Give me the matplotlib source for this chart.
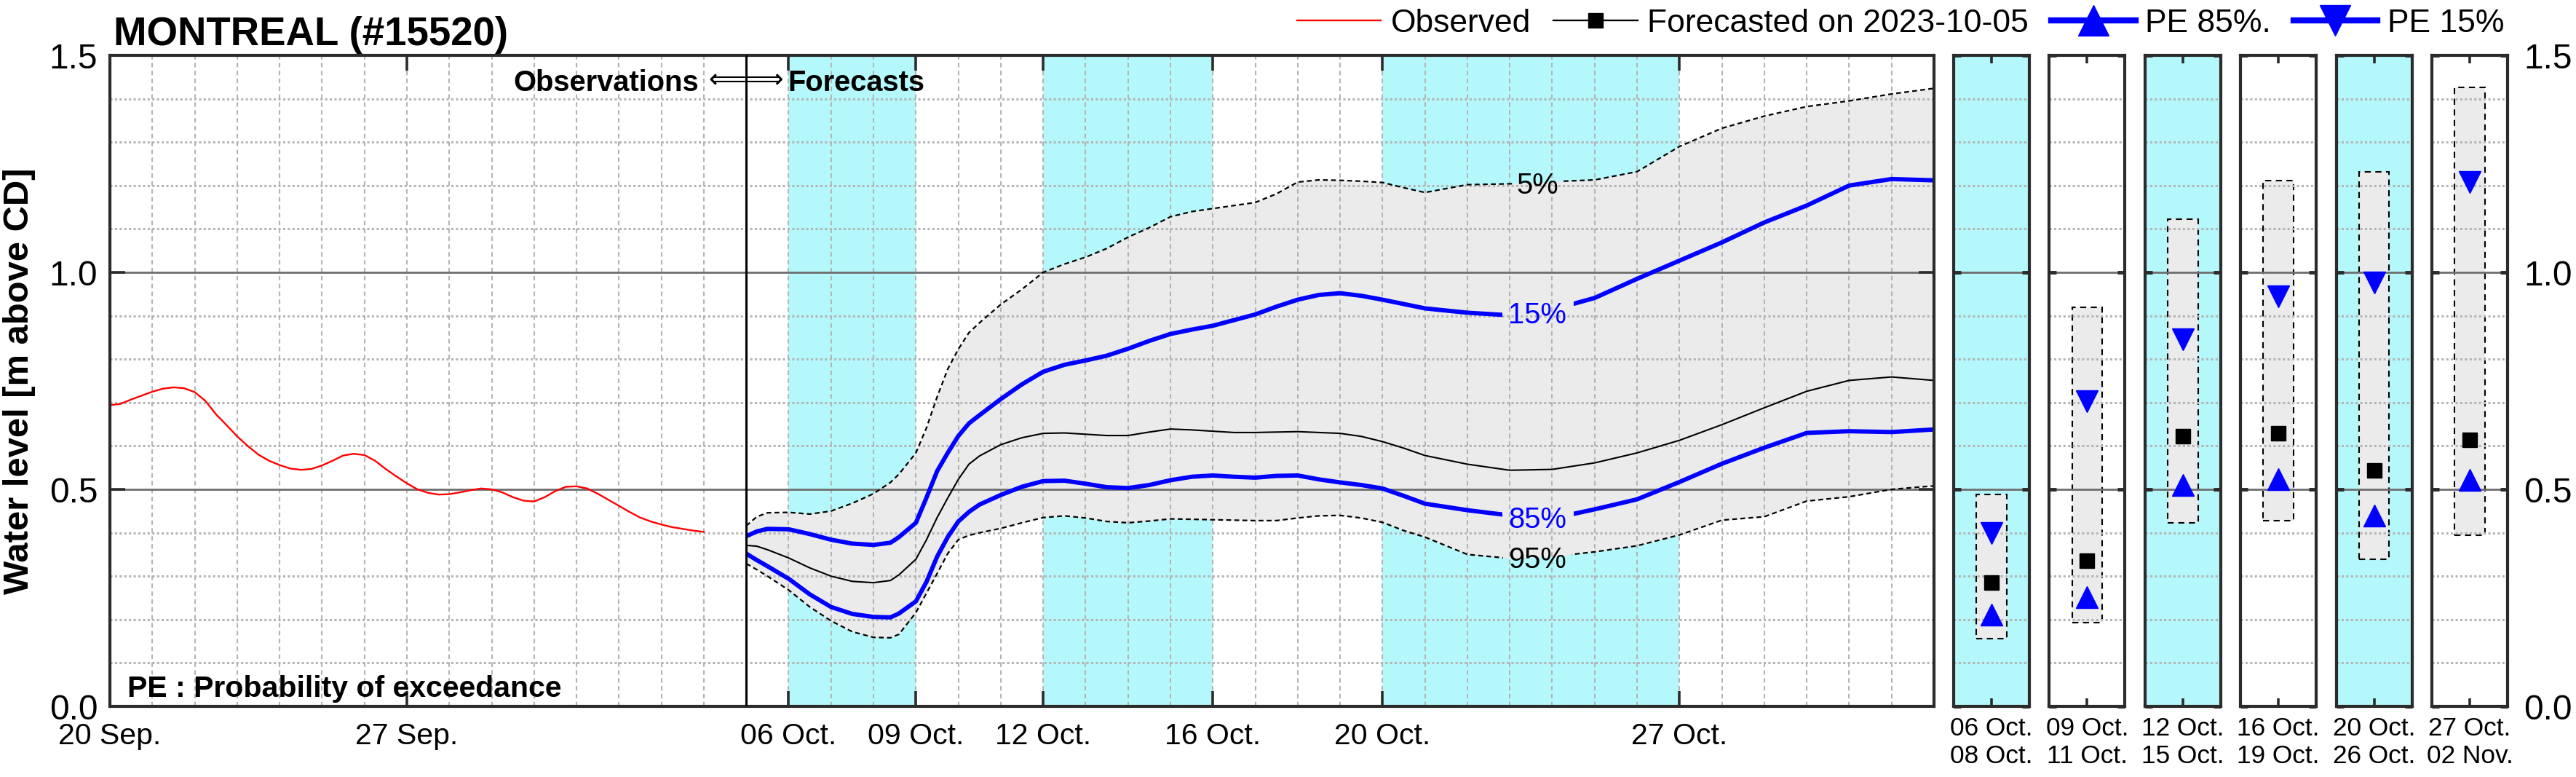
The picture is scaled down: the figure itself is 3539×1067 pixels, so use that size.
import numpy as np
import matplotlib
matplotlib.use("Agg")
import matplotlib.pyplot as plt
import matplotlib.dates as mdates
from matplotlib import font_manager
from matplotlib.lines import Line2D
from matplotlib.path import Path
from matplotlib.patches import PathPatch
from matplotlib.ticker import MultipleLocator, FormatStrFormatter
from datetime import datetime

# ------------------------------------------------------------------ data
station = "MONTREAL (#15520)"
forecast_issue = "2023-10-05"

obs_start = "2023-09-20"
obs_step_days = 0.25
obs_level = [0.694, 0.697, 0.707, 0.716, 0.725, 0.732, 0.735, 0.733, 0.724, 0.704,
             0.673, 0.648, 0.622, 0.600, 0.580, 0.566, 0.556, 0.548, 0.545, 0.547,
             0.555, 0.566, 0.578, 0.582, 0.579, 0.566, 0.547, 0.530, 0.514, 0.500,
             0.492, 0.488, 0.489, 0.493, 0.498, 0.502, 0.500, 0.493, 0.482, 0.474,
             0.472, 0.482, 0.496, 0.506, 0.507, 0.502, 0.490, 0.476, 0.462, 0.448,
             0.435, 0.426, 0.419, 0.413, 0.409, 0.405, 0.402]

fc_start = "2023-10-05"
fc_day = [0, 0.25, 0.5, 1, 1.5, 2, 2.5, 3, 3.4, 3.6, 4, 4.25, 4.5, 4.75, 5, 5.25, 5.5,
          6, 6.5, 7, 7.5, 8, 8.5, 9, 9.5, 10, 10.5, 11, 11.5, 12, 12.5, 13, 13.5, 14,
          14.5, 15, 15.5, 16, 17, 18, 19, 20, 21, 22, 23, 24, 25, 26, 27, 28]
fc_median = [0.371, 0.369, 0.361, 0.342, 0.319, 0.300, 0.288, 0.285, 0.290, 0.303,
             0.339, 0.384, 0.435, 0.480, 0.523, 0.558, 0.577, 0.603, 0.619, 0.629,
             0.630, 0.627, 0.624, 0.624, 0.632, 0.639, 0.637, 0.634, 0.631, 0.631,
             0.632, 0.633, 0.631, 0.629, 0.622, 0.610, 0.595, 0.578, 0.558, 0.544,
             0.546, 0.561, 0.584, 0.613, 0.649, 0.688, 0.726, 0.751, 0.759, 0.751]
pe15 = [0.392, 0.403, 0.409, 0.408, 0.397, 0.384, 0.375, 0.372, 0.377, 0.390,
        0.423, 0.481, 0.542, 0.584, 0.623, 0.652, 0.671, 0.708, 0.742, 0.771,
        0.787, 0.797, 0.808, 0.824, 0.842, 0.858, 0.868, 0.877, 0.890, 0.903,
        0.921, 0.937, 0.948, 0.952, 0.946, 0.937, 0.927, 0.917, 0.907, 0.901,
        0.914, 0.941, 0.985, 1.027, 1.069, 1.115, 1.154, 1.200, 1.215, 1.212]
pe85 = [0.352, 0.337, 0.323, 0.294, 0.258, 0.229, 0.213, 0.206, 0.205, 0.214,
        0.242, 0.287, 0.345, 0.390, 0.426, 0.448, 0.465, 0.487, 0.506, 0.519,
        0.520, 0.513, 0.505, 0.503, 0.510, 0.521, 0.529, 0.532, 0.529, 0.527,
        0.531, 0.532, 0.523, 0.516, 0.510, 0.502, 0.485, 0.467, 0.452, 0.440,
        0.433, 0.454, 0.477, 0.517, 0.559, 0.596, 0.630, 0.634, 0.632, 0.638]
pe5 = [0.416, 0.437, 0.446, 0.447, 0.443, 0.450, 0.468, 0.490, 0.516, 0.535,
       0.584, 0.642, 0.713, 0.777, 0.823, 0.861, 0.884, 0.926, 0.961, 1.000,
       1.019, 1.035, 1.055, 1.081, 1.103, 1.128, 1.140, 1.147, 1.154, 1.161,
       1.181, 1.208, 1.213, 1.212, 1.210, 1.207, 1.195, 1.184, 1.202, 1.204,
       1.209, 1.213, 1.232, 1.290, 1.332, 1.360, 1.382, 1.395, 1.411, 1.424]
pe95 = [0.329, 0.315, 0.300, 0.268, 0.229, 0.197, 0.172, 0.159, 0.158, 0.166,
        0.216, 0.261, 0.306, 0.352, 0.384, 0.394, 0.400, 0.410, 0.423, 0.435,
        0.439, 0.434, 0.426, 0.423, 0.427, 0.432, 0.431, 0.430, 0.429, 0.428,
        0.428, 0.434, 0.439, 0.440, 0.434, 0.424, 0.405, 0.390, 0.350, 0.341,
        0.345, 0.356, 0.370, 0.395, 0.429, 0.437, 0.473, 0.483, 0.500, 0.508]

x_start = "2023-09-20"
x_end = "2023-11-02"
tick_dates = ["2023-09-20", "2023-09-27", "2023-10-06", "2023-10-09", "2023-10-12",
              "2023-10-16", "2023-10-20", "2023-10-27"]
tick_labels = ["20 Sep.", "27 Sep.", "06 Oct.", "09 Oct.", "12 Oct.", "16 Oct.",
               "20 Oct.", "27 Oct."]

period_start = ["2023-10-06", "2023-10-09", "2023-10-12", "2023-10-16", "2023-10-20", "2023-10-27"]
period_end = ["2023-10-08", "2023-10-11", "2023-10-15", "2023-10-19", "2023-10-26", "2023-11-02"]
period_labels = ["06 Oct.\n08 Oct.", "09 Oct.\n11 Oct.", "12 Oct.\n15 Oct.",
                 "16 Oct.\n19 Oct.", "20 Oct.\n26 Oct.", "27 Oct.\n02 Nov."]
per_p95 = [0.156, 0.193, 0.422, 0.428, 0.339, 0.395]
per_p5 = [0.489, 0.920, 1.123, 1.211, 1.232, 1.426]
per_fc = [0.285, 0.336, 0.622, 0.629, 0.544, 0.614]
per_pe85 = [0.212, 0.251, 0.510, 0.524, 0.439, 0.522]
per_pe15 = [0.400, 0.703, 0.845, 0.944, 0.977, 1.208]

# ------------------------------------------------------------------ style
def has_font(name):
    try:
        font_manager.findfont(font_manager.FontProperties(family=name),
                              fallback_to_default=False)
        return True
    except Exception:
        return False

NARROW = has_font("Liberation Sans Narrow")
FONT = "Liberation Sans Narrow" if NARROW else "Liberation Sans"
SC = 1.0 if NARROW else 0.82          # keep text widths equal to the reference
plt.rcParams["font.family"] = [FONT, "DejaVu Sans"]

CYAN = "#b4f8fb"
GREY_FILL = "#ebebeb"
SPINE = "#2b2b2b"
W, H = 3539, 1067

def d2n(s):
    return mdates.date2num(datetime.strptime(s, "%Y-%m-%d"))

fig = plt.figure(figsize=(W / 100, H / 100), dpi=100)
ax_l, ax_r, ax_t, ax_b = 151, 2657, 76, 970
B = 1 - ax_b / H
HH = (ax_b - ax_t) / H
ax = fig.add_axes([ax_l / W, B, (ax_r - ax_l) / W, HH])

x0, x1 = d2n(x_start), d2n(x_end)
ax.set_xlim(x0, x1)
ax.set_ylim(0, 1.5)
ax.set_axisbelow("line")

# cyan bands (alternate periods)
for i in range(0, len(period_start), 2):
    ax.axvspan(d2n(period_start[i]), d2n(period_end[i]) + 1, color=CYAN, lw=0, zorder=0.5)

t_obs = d2n(obs_start) + np.arange(len(obs_level)) * obs_step_days
t_fc = d2n(fc_start) + np.array(fc_day)

ax.fill_between(t_fc, pe95, pe5, color=GREY_FILL, lw=0, zorder=1)


def gap_clip(artist, gx0, gx1, gy0, gy1):
    X0, X1 = ax.get_xlim()
    Y0, Y1 = ax.get_ylim()
    verts = [(X0, Y0), (X1, Y0), (X1, Y1), (X0, Y1), (X0, Y0),
             (gx0, gy0), (gx0, gy1), (gx1, gy1), (gx1, gy0), (gx0, gy0)]
    codes = [Path.MOVETO, Path.LINETO, Path.LINETO, Path.LINETO, Path.CLOSEPOLY] * 2
    artist.set_clip_path(PathPatch(Path(verts, codes), transform=ax.transData))


lab_x = d2n(fc_start) + 18.65
l5, = ax.plot(t_fc, pe5, color="black", lw=1.6, ls=(0, (3, 2)), zorder=2)
l95, = ax.plot(t_fc, pe95, color="black", lw=1.6, ls=(0, (3, 2)), zorder=2)
l15, = ax.plot(t_fc, pe15, color="blue", lw=4.3, zorder=2.2, solid_capstyle="butt")
l85, = ax.plot(t_fc, pe85, color="blue", lw=4.3, zorder=2.2, solid_capstyle="butt")
ax.plot(t_fc, fc_median, color="black", lw=1.5, zorder=2.1)
ax.plot(t_obs, obs_level, color="red", lw=1.7, zorder=2.1)

gap_clip(l5, lab_x - 0.55, lab_x + 0.55, 1.16, 1.25)
gap_clip(l95, lab_x - 0.8, lab_x + 0.8, 0.29, 0.385)
gap_clip(l15, lab_x - 0.82, lab_x + 0.86, 0.85, 0.96)
gap_clip(l85, lab_x - 0.82, lab_x + 0.86, 0.38, 0.49)

PF = 35 * SC
ax.text(lab_x, 1.2, "5%", color="black", fontsize=PF, ha="center", va="center", zorder=4)
ax.text(lab_x, 0.901, "15%", color="blue", fontsize=PF, ha="center", va="center", zorder=4)
ax.text(lab_x, 0.429, "85%", color="blue", fontsize=PF, ha="center", va="center", zorder=4)
ax.text(lab_x, 0.337, "95%", color="black", fontsize=PF, ha="center", va="center", zorder=4)

# obs / forecast divider
fcn = d2n(fc_start)
ax.axvline(fcn, color="black", lw=2.2, zorder=3)
ax.text(fcn - 1.115, 1.418, "Observations", fontsize=35 * SC, fontweight="bold",
        ha="right", va="baseline", zorder=4)
ax.text(fcn, 1.425, "\u27f8\u27f9", fontsize=26, ha="center", va="baseline",
        family="DejaVu Sans", zorder=4)
ax.text(fcn + 0.98, 1.418, "Forecasts", fontsize=35 * SC, fontweight="bold",
        ha="left", va="baseline", zorder=4)
ax.text(0.0096, 0.022 / 1.5, "PE : Probability of exceedance", transform=ax.transAxes,
        fontsize=36 * SC, fontweight="bold", ha="left", va="baseline", zorder=4)

# ticks & grid
ax.set_xticks([d2n(s) for s in tick_dates])
ax.set_xticklabels(tick_labels)
ax.xaxis.set_minor_locator(MultipleLocator(1))
ax.set_yticks([0, 0.5, 1.0, 1.5])
ax.yaxis.set_major_formatter(FormatStrFormatter("%.1f"))
ax.yaxis.set_minor_locator(MultipleLocator(0.1))
ax.grid(which="major", axis="y", color="#6e6e6e", lw=2.0, ls="-")
ax.grid(which="minor", axis="y", color="#b4b4b4", lw=2.2, ls=(0, (1, 1.1)))
ax.grid(which="both", axis="x", color="#b4b4b4", lw=1.5, ls=(0, (3, 2.2)))
ax.tick_params(which="major", direction="in", length=15, width=2.6, color=SPINE,
               top=True, right=True)
ax.tick_params(which="minor", length=0)
ax.tick_params(axis="x", labelsize=36 * SC, pad=16)
ax.tick_params(axis="y", labelsize=42 * SC, pad=12)
for s in ax.spines.values():
    s.set_color(SPINE)
    s.set_linewidth(3)

# ------------------------------------------------------------------ period panels
p_w = 104
for i in range(len(period_start)):
    px = 2684 + i * 131.4
    pax = fig.add_axes([px / W, B, p_w / W, HH])
    pax.set_xlim(-0.5, 0.5)
    pax.set_ylim(0, 1.5)
    pax.set_axisbelow("line")
    if i % 2 == 0:
        pax.set_facecolor(CYAN)
    pax.bar(0, per_p5[i] - per_p95[i], bottom=per_p95[i], width=0.4, color=GREY_FILL,
            edgecolor="black", lw=1.5, ls=(0, (4, 3)), zorder=1)
    pax.plot([0], [per_pe85[i]], marker="^", color="blue", ms=22, ls="none", zorder=3)
    pax.plot([0], [per_pe15[i]], marker="v", color="blue", ms=22, ls="none", zorder=3)
    pax.plot([0], [per_fc[i]], marker="s", color="black", ms=15, ls="none", zorder=3)
    pax.set_xticks([0])
    pax.set_xticklabels([period_labels[i]], linespacing=1.2)
    pax.set_yticks([0, 0.5, 1.0, 1.5])
    pax.yaxis.set_major_formatter(FormatStrFormatter("%.1f"))
    pax.yaxis.set_minor_locator(MultipleLocator(0.1))
    pax.grid(which="major", axis="y", color="#6e6e6e", lw=2.0, ls="-")
    pax.grid(which="minor", axis="y", color="#b4b4b4", lw=2.2, ls=(0, (1, 1.1)))
    pax.tick_params(which="minor", length=0)
    pax.tick_params(axis="x", which="major", direction="in", length=8, width=2.6,
                    color=SPINE, top=True, labelsize=31 * SC, pad=10)
    pax.tick_params(axis="y", which="major", direction="in", length=7, width=3.5,
                    color=SPINE, left=True, right=True, labelleft=False,
                    labelright=(i == len(period_start) - 1), labelsize=42 * SC, pad=16)
    for s in pax.spines.values():
        s.set_color(SPINE)
        s.set_linewidth(3)

# ------------------------------------------------------------------ texts & legend
fig.text(156 / W, 1 - 62 / H, station, fontsize=48 * SC, fontweight="bold",
         ha="left", va="baseline")
fig.text(27 / W, 1 - 523 / H, "Water level [m above CD]", fontsize=43 * SC,
         fontweight="bold", rotation=90, ha="center", va="center")

handles = [Line2D([], [], color="red", lw=1.7),
           Line2D([], [], color="black", lw=1.7, marker="s", ms=14),
           Line2D([], [], color="blue", lw=6, marker="^", ms=30),
           Line2D([], [], color="blue", lw=6, marker="v", ms=30)]
labels = ["Observed", "Forecasted on " + forecast_issue, "PE 85%.", "PE 15%"]
fig.legend(handles, labels, loc="center right", bbox_to_anchor=(3440 / W, 1 - 32 / H),
           ncol=4, frameon=False, fontsize=39 * SC, handlelength=2.6, handletextpad=0.3,
           columnspacing=0.7, borderpad=0, borderaxespad=0, numpoints=1)

fig.savefig("out.png", dpi=100)
